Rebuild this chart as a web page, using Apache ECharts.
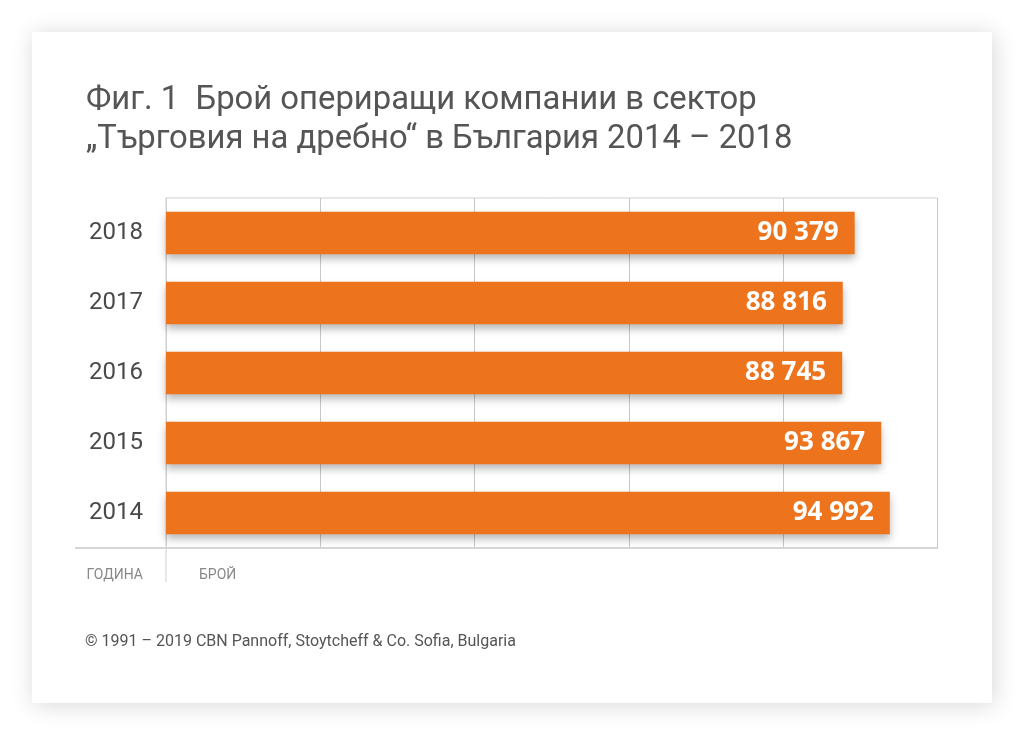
<!DOCTYPE html>
<html><head><meta charset="utf-8">
<script src="https://cdn.jsdelivr.net/npm/echarts@6/dist/echarts.min.js"></script>
<style>html,body{margin:0;padding:0;background:#fff;}#c{width:1024px;height:735px;}</style>
</head><body><div id="c"></div>
<script>
const categories = ['2014', '2015', '2016', '2017', '2018'];
const values = [94992, 93867, 88745, 88816, 90379];
const titleLines = ['Фиг. 1  Брой опериращи компании в сектор', '„Търговия на дребно“ в България 2014 – 2018'];
const yAxisCaption = 'ГОДИНА';
const xAxisCaption = 'БРОЙ';
const footer = '© 1991 – 2019 CBN Pannoff, Stoytcheff & Co. Sofia, Bulgaria';

const fmt = v => String(v).replace(/\B(?=(\d{3})+(?!\d))/g, ' ');
const chart = echarts.init(document.getElementById('c'));
const FONT = 'Roboto';
chart.setOption({
  backgroundColor: '#fff',
  animation: false,
  graphic: [
    { type: 'rect', z: -10, shape: { x: 32, y: 32, width: 960, height: 671 },
      style: { fill: '#fff', shadowBlur: 22, shadowColor: 'rgba(0,0,0,0.16)', shadowOffsetX: 2, shadowOffsetY: 2 } },
    { type: 'text', left: 86, top: 81, style: { text: titleLines.join('\n'), font: '400 32.8px ' + FONT, fill: '#555', lineHeight: 39 } },
    { type: 'line', shape: { x1: 75, y1: 548, x2: 166, y2: 548 }, style: { stroke: '#d6d6d6', lineWidth: 2 } },
    { type: 'line', shape: { x1: 166, y1: 548, x2: 166, y2: 582 }, style: { stroke: '#d0d0d0', lineWidth: 1 } },
    { type: 'text', right: 1024 - 143, top: 568, style: { text: yAxisCaption, font: '400 14px ' + FONT, fill: '#888', textAlign: 'right' } },
    { type: 'text', left: 199, top: 568, style: { text: xAxisCaption, font: '400 14px ' + FONT, fill: '#888' } },
    { type: 'text', left: 85, top: 634, style: { text: footer, font: '400 16px ' + FONT, fill: '#555' } }
  ],
  grid: { left: 166, right: 86.5, top: 198, bottom: 187, show: true, borderColor: '#d0d0d0', borderWidth: 1 },
  xAxis: {
    type: 'value', min: 0, max: 101250, interval: 20250,
    axisLabel: { show: false }, axisTick: { show: false },
    axisLine: { show: true, lineStyle: { color: '#d6d6d6', width: 2 } },
    splitLine: { show: true, lineStyle: { color: '#c8c8c8', width: 1 } }
  },
  yAxis: {
    type: 'category', data: categories,
    axisTick: { show: false },
    axisLine: { show: true, lineStyle: { color: '#d0d0d0', width: 1 } },
    axisLabel: { color: '#4a4a4a', fontFamily: FONT, fontWeight: 400, fontSize: 24, margin: 23, padding: [10, 0, 0, 0] }
  },
  series: [{
    type: 'bar', data: values, barCategoryGap: '39%',
    itemStyle: { color: '#ED731D', shadowColor: 'rgba(0,0,0,0.28)', shadowBlur: 8, shadowOffsetY: 5 },
    label: { show: true, position: 'insideRight', distance: 16, color: '#fff', fontFamily: 'Noto Sans', fontWeight: 'bold', fontSize: 26, formatter: p => fmt(p.value) }
  }]
});
</script></body></html>
